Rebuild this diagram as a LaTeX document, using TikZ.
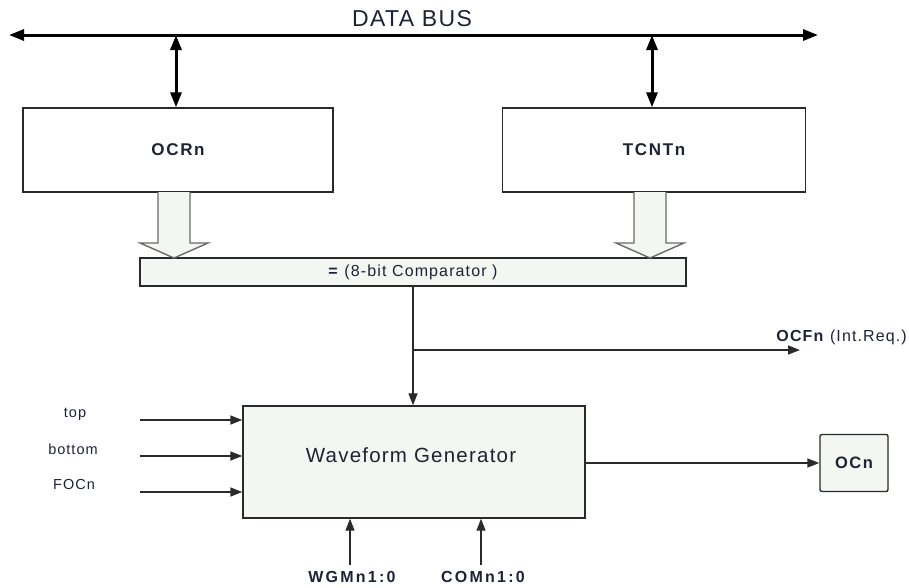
\documentclass[tikz,border=0pt]{standalone}
\usepackage{fontspec}
\setmainfont{Liberation Sans}
\usetikzlibrary{arrows.meta,calc}
\definecolor{boxfill}{HTML}{F3F6F1}
\definecolor{txt}{HTML}{1E2235}
\definecolor{ln}{HTML}{2A2A2A}
\newcommand{\fs}[2]{\fontsize{#1}{#1}\selectfont\addfontfeature{LetterSpace=#2}}
\begin{document}
\begin{tikzpicture}[x=1pt,y=-1pt,
  blk/.style={draw=ln,line width=1.4pt,rectangle,inner sep=0pt,text=txt},
  thin/.style={draw=ln,line width=1.5pt,-{Triangle[length=12pt,width=9pt]}},
  thick/.style={draw=black,line width=3pt,{Triangle[length=15pt,width=11pt]}-{Triangle[length=15pt,width=11pt]}},
  lbl/.style={text=txt,inner sep=0pt},
  hollow/.style={draw=ln!70,line width=1.4pt,fill=boxfill,line join=miter}]
\useasboundingbox (0,0) rectangle (909,587);
% data bus
\coordinate (busL) at (9,35);
\coordinate (busR) at (818,35);
\draw[thick] (busL) -- (busR);
\node[lbl,font=\fs{23}{6}] (dbus) at (412,19) {DATA BUS};
% registers
\node[blk,fill=white,minimum width=310pt,minimum height=84pt] (ocr) at (178,150) {\fs{17}{10}\bfseries OCRn};
\node[blk,fill=white,minimum width=303pt,minimum height=84pt] (tcnt) at (654,150) {\fs{17}{10}\bfseries TCNTn};
\coordinate (b1) at (176,35);
\coordinate (b2) at (652,35);
\draw[thick] (b1) -- (b1 |- ocr.north);
\draw[thick] (b2) -- (b2 |- tcnt.north);
% comparator
\node[blk,fill=boxfill,minimum width=546pt,minimum height=28pt] (cmp) at (413,272) {\fs{16}{7}\textbf{=} (8-bit Comparator )};
% hollow arrows
\draw[hollow] (158,192) -- (158,243) -- (140,243) -- (174,258) -- (208,243) -- (190,243) -- (190,192);
\draw[hollow] (634,192) -- (634,243) -- (616,243) -- (650,258) -- (684,243) -- (666,243) -- (666,192);
% waveform generator
\node[blk,fill=boxfill,minimum width=342pt,minimum height=112pt] (wg) at (414,462) {};
\node[lbl,font=\fs{20.5}{6}] (wgtxt) at (411,455) {Waveform Generator};
\node[blk,fill=boxfill,minimum width=68pt,minimum height=57pt,rounded corners=2pt] (ocn) at (854,463) {\fs{16.5}{9}\bfseries OCn};
% comparator output
\coordinate (cb) at (413,286);
\coordinate (br) at (413,350);
\coordinate (ocf) at (800,350);
\draw[thin] (cb) -- (cb |- wg.north);
\draw[thin] (br) -- (ocf);
\node[lbl,anchor=east,font=\fs{16}{7}] (ocflbl) at (907,337) {\textbf{OCFn} (Int.Req.)};
% left inputs
\node[lbl,font=\fs{14.5}{7}] (ltop) at (75,414) {top};
\node[lbl,font=\fs{14.5}{7}] (lbot) at (73,449) {bottom};
\node[lbl,font=\fs{14.5}{7}] (lfoc) at (74,484) {FOCn};
\coordinate (i1) at (140,420);
\coordinate (i2) at (140,456);
\coordinate (i3) at (140,492);
\draw[thin] (i1) -- (i1 -| wg.west);
\draw[thin] (i2) -- (i2 -| wg.west);
\draw[thin] (i3) -- (i3 -| wg.west);
% bottom inputs
\node[lbl,font=\fs{16}{14}\bfseries] (wgm) at (352,577) {WGMn1:0};
\node[lbl,font=\fs{16}{14}\bfseries] (com) at (483,577) {COMn1:0};
\coordinate (w1) at (350,565);
\coordinate (c1) at (481,565);
\draw[thin] (w1) -- (w1 |- wg.south);
\draw[thin] (c1) -- (c1 |- wg.south);
% output
\draw[thin] (wg.east |- ocn.west) -- (ocn.west);
\end{tikzpicture}
\end{document}
